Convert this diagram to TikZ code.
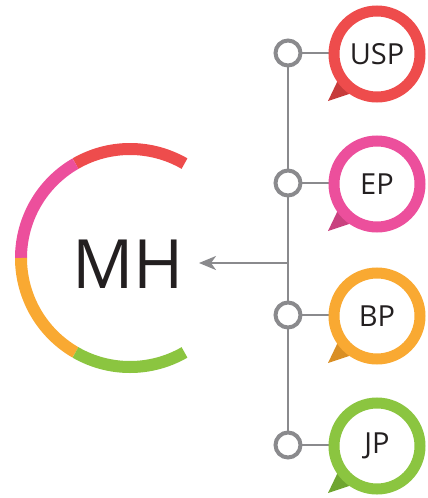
\documentclass[tikz,border=0pt]{standalone}
\usepackage{fontspec}
\setmainfont{Open Sans}
\usetikzlibrary{arrows.meta,calc}
\definecolor{cred}{HTML}{EE4C4C}
\definecolor{cpink}{HTML}{EC4F9C}
\definecolor{corange}{HTML}{F9A932}
\definecolor{cgreen}{HTML}{8BC540}
\definecolor{dred}{HTML}{C73B3B}
\definecolor{dpink}{HTML}{C9417F}
\definecolor{dorange}{HTML}{D98F25}
\definecolor{dgreen}{HTML}{6FA530}
\definecolor{cgray}{HTML}{8A8A8D}
\definecolor{ctext}{HTML}{231F20}
\tikzset{
  seg/.style={line width=12pt},
  conn/.style={draw=cgray, line width=2.2pt},
  dot/.style={circle, draw=cgray, line width=4pt, fill=white, minimum size=25pt, inner sep=0pt},
  bubble/.style={circle, draw=#1, line width=11pt, fill=white, minimum size=86pt, inner sep=0pt, text=ctext, font=\fontsize{29}{32}\selectfont},
}
\newcommand{\mytail}[2]{%
  \fill[#2] ($(#1)+(-49,47)$) -- ($(#1)+(-38,24)$) -- ($(#1)+(-22,38)$) -- cycle;}
\begin{document}
\begin{tikzpicture}[x=1pt,y=-1pt]
\useasboundingbox (0,0) rectangle (428,498);
% arc
\coordinate (c) at (130,258);
\draw[seg, cred] (c) ++(-60:109) arc[start angle=-60, end angle=-120, radius=109];
\draw[seg, cpink] (c) ++(-120:109) arc[start angle=-120, end angle=-180, radius=109];
\draw[seg, corange] (c) ++(-180:109) arc[start angle=-180, end angle=-240, radius=109];
\draw[seg, cgreen] (c) ++(-240:109) arc[start angle=-240, end angle=-300, radius=109];
\node[text=ctext, font=\fontsize{68}{72}\selectfont, inner sep=0pt] (mh) at (128,264) {MH};
% timeline
\coordinate (b1) at (377,54);
\coordinate (b2) at (377,184);
\coordinate (b3) at (377,316);
\coordinate (b4) at (377,446);
\mytail{b1}{dred}
\mytail{b2}{dpink}
\mytail{b3}{dorange}
\mytail{b4}{dgreen}
\coordinate (j) at (288,263);
\coordinate (tip) at (199,263);
\draw[conn] (288,53) -- (288,445);
\draw[conn, -{Stealth[length=17pt, width=14pt, inset=5pt]}] (j) -- (tip);
\foreach \i/\y in {1/53,2/183,3/315,4/445}{
  \draw[conn] (288,\y) -- (340,\y);
  \node[dot] (d\i) at (288,\y) {};
}
\node[bubble=cred] (usp) at (b1) {USP};
\node[bubble=cpink] (ep) at (b2) {EP};
\node[bubble=corange] (bp) at (b3) {BP};
\node[bubble=cgreen] (jp) at (b4) {JP};
\end{tikzpicture}
\end{document}
